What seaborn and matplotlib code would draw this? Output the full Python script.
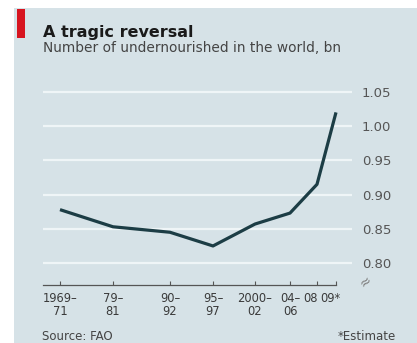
import matplotlib
matplotlib.use("Agg")
import matplotlib.pyplot as plt
from matplotlib.patches import Rectangle
from matplotlib.transforms import ScaledTranslation
import seaborn as sns
import pandas as pd

# Undernourished people in the world, billions (FAO)
periods = ["1969–\n71", "79–\n81", "90–\n92", "95–\n97", "2000–\n02", "04–\n06", "08", "09*"]
undernourished = [0.878, 0.853, 0.845, 0.825, 0.857, 0.873, 0.915, 1.020]
# horizontal placement of each period along the time axis
period_x = [17, 70, 127, 170, 212, 247, 274, 293]
y_ticks = [0.80, 0.85, 0.90, 0.95, 1.00, 1.05]
y_tick_labels = ["0.80", "0.85", "0.90", "0.95", "1.00", "1.05"]

df = pd.DataFrame({"x": period_x, "value": undernourished})

sns.set_theme(style="white")
plt.rcParams["font.family"] = ["DejaVu Sans"]

W, H = 417, 343
fig = plt.figure(figsize=(W / 100, H / 100), dpi=100)
fig.patch.set_facecolor("white")

panel = "#d6e2e7"
fig.patches.append(Rectangle((14 / W, 0), 1 - 14 / W, 1 - 8 / H,
                             transform=fig.transFigure, facecolor=panel,
                             edgecolor="none", zorder=-2))
fig.patches.append(Rectangle((17 / W, 1 - 38 / H), 8 / W, 29 / H,
                             transform=fig.transFigure, facecolor="#d7141f",
                             edgecolor="none", zorder=-1))

ax = fig.add_axes([43 / W, 1 - 285 / H, 309 / W, 200 / H])
ax.set_facecolor("none")
ax.set_zorder(2)

for yv in y_ticks:
    ax.axhline(yv, color="#eff5f7", lw=1.6, zorder=1)

sns.lineplot(data=df, x="x", y="value", ax=ax, color="#1c3d45", lw=2.3,
             zorder=3, solid_joinstyle="round", solid_capstyle="butt")

ax.set_xlim(0, 309)
ax.set_ylim(0.768, 1.06)

for side in ["top", "left", "right"]:
    ax.spines[side].set_visible(False)
ax.spines["bottom"].set_color("#555555")
ax.spines["bottom"].set_linewidth(0.9)
ax.spines["bottom"].set_bounds(0, period_x[-1])

ax.set_xticks(period_x)
ax.set_xticklabels(periods, fontsize=8.3, color="#3a3a3a", linespacing=1.0)
ax.tick_params(axis="x", direction="in", length=3, width=0.8, color="#555555", pad=5,
               bottom=True)
# nudge the last two period labels left so they sit side by side
xlabels = ax.get_xticklabels()
for lab, dx in [(xlabels[-2], -6), (xlabels[-1], -6)]:
    lab.set_transform(lab.get_transform() + ScaledTranslation(dx / 100, 0, fig.dpi_scale_trans))

ax.yaxis.tick_right()
ax.set_yticks(y_ticks)
ax.set_yticklabels(y_tick_labels, fontsize=9.5, color="#555555")
ax.tick_params(axis="y", length=0, pad=7)
ax.set_xlabel("")
ax.set_ylabel("")

# broken-axis mark below the lowest value label
fig.text(366 / W, 1 - 282 / H, "≈", fontsize=10, color="#808080",
         rotation=40, ha="center", va="center")

fig.text(43 / W, 1 - 32 / H, "A tragic reversal", fontsize=11.5,
         fontweight="bold", color="#1a1a1a", ha="left", va="center")
fig.text(43 / W, 1 - 48 / H, "Number of undernourished in the world, bn",
         fontsize=9.9, color="#444444", ha="left", va="center")
fig.text(42 / W, 1 - 337 / H, "Source: FAO", fontsize=8.5, color="#444444",
         ha="left", va="center")
fig.text(396 / W, 1 - 337 / H, "*Estimate", fontsize=8.5, color="#444444",
         ha="right", va="center")

fig.savefig("out.png", dpi=100, facecolor=fig.get_facecolor())
